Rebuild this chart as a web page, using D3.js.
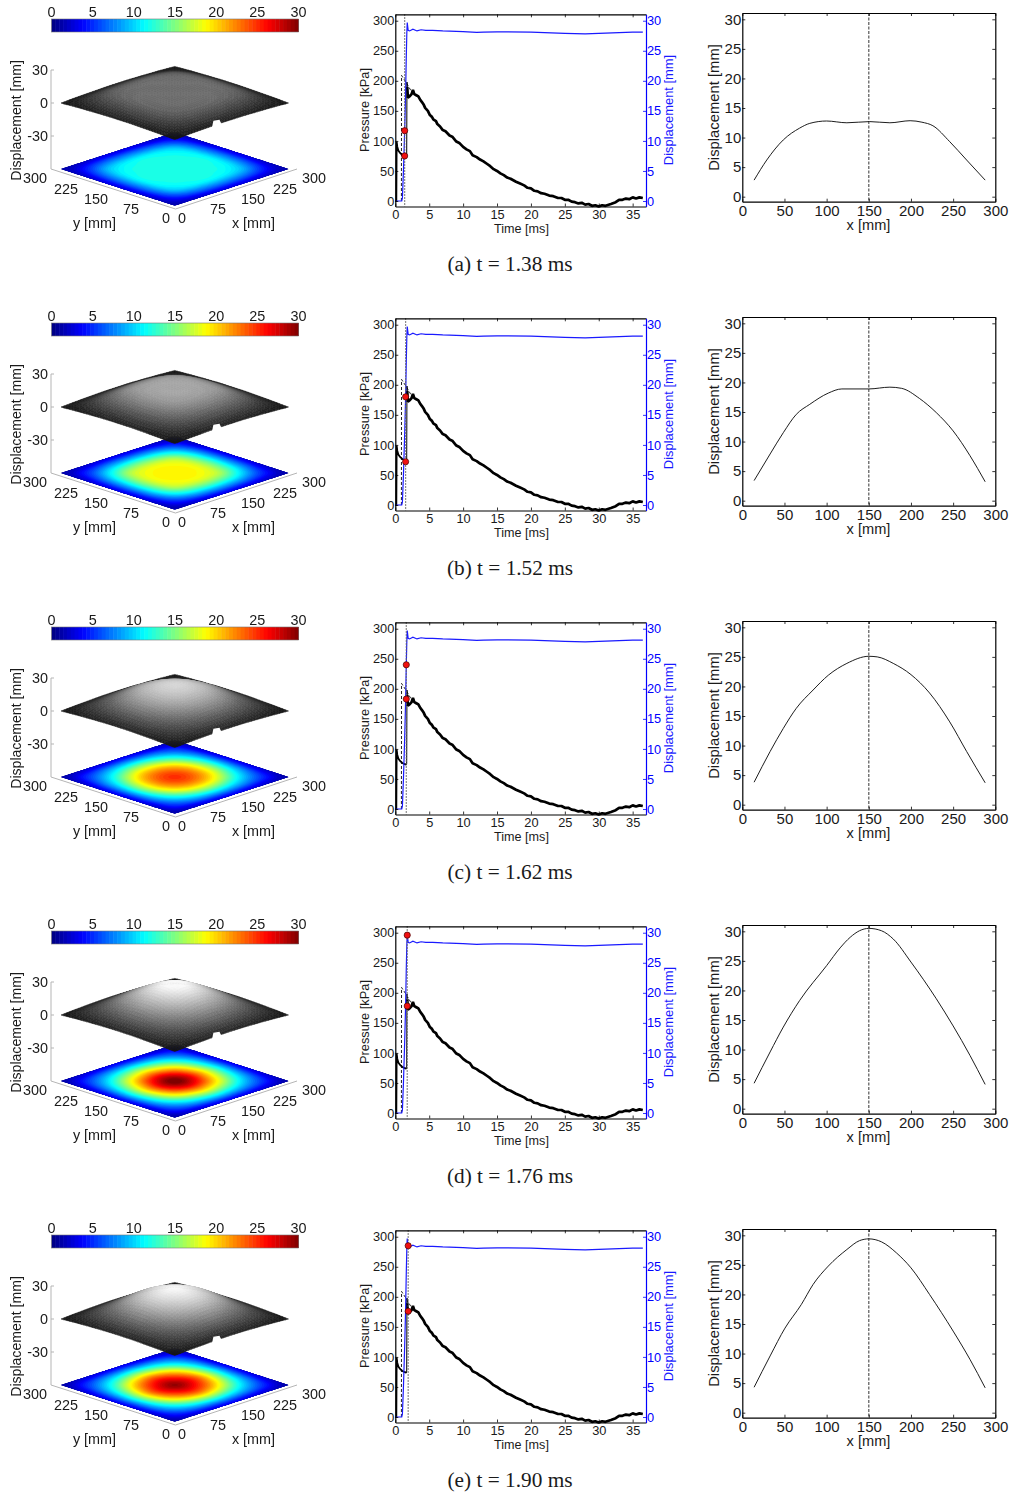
<!DOCTYPE html>
<html>
<head>
<meta charset="utf-8">
<title>Displacement fields and pressure histories</title>
<script src="https://cdn.jsdelivr.net/npm/d3@7"></script>
<style>
  html, body { margin: 0; background: #fff; }
  text { font-family: "Liberation Sans", Arial, sans-serif; fill: #1a1a1a; }
  .caption { font-family: "Liberation Serif", "Times New Roman", serif; font-size: 21.3px; }
</style>
</head>
<body>
<svg id="chart"></svg>
<script>
  var LETTERS = ["a", "b", "c", "d", "e"];
  var TIMES = [1.38, 1.52, 1.62, 1.76, 1.90];

  // red dots on the middle plots
  var DOT_DISP = [11.7, 18.0, 24.0, 29.6, 28.5];
  var DOT_PRESS = [75, 72, 183, 178, 176];

  // middle plot, the same record in every row
  var PRESS_T = [0, 0.15, 0.2, 0.3, 0.45, 0.7, 1.0, 1.3, 1.55, 1.68,
    1.72, 1.76, 1.85, 2.1, 2.4, 2.6, 2.8, 3.1, 3.4, 3.7, 3.9, 4.2, 4.4, 4.8, 5.1, 5.4, 5.6, 6.0, 6.2, 6.6, 7, 7.4, 8, 8.4, 9, 9.5, 10, 10.5, 11, 11.4, 12, 12.5, 13, 13.5, 14, 14.5, 15, 15.5, 16, 16.5, 17, 17.8, 18.4, 19, 19.5, 20, 20.5, 21, 21.5, 22, 22.7, 23.3, 24, 24.5, 25, 25.5, 26, 26.5, 27, 27.5, 28, 28.5, 29, 29.5, 30, 30.5, 31, 31.8, 32.5, 33, 33.5, 34, 34.5, 35, 35.5, 36, 36.5];
  var PRESS_KPA = [0, 0, 99, 90, 84, 80, 77, 75, 74, 75,
    198, 190, 172, 174, 178, 185, 178, 176, 174, 168, 165, 160, 155, 150, 143, 140, 136, 133, 128, 124, 118, 116, 109, 107, 99, 96, 90, 86, 83, 76, 73, 69, 66, 62, 58, 53, 50, 46, 43, 39, 37, 32, 29, 26, 22, 21, 17, 16, 13, 12, 9, 8, 5, 5, 2, 2, -1, -2, -4, -3, -6, -5, -8, -7, -9, -7, -8, -5, -2, 2, 2, 4, 3, 6, 4, 6, 5];
  var JUMP_INDEX = 9;
  var DASH_T = [0.9, 0.92, 1.67, 2.6];
  var DASH_KPA = [0, 209, 196, 178];
  var DISP_T = [0, 0.95, 1.05, 1.2, 1.38, 1.52, 1.62, 1.7, 1.76, 1.85, 1.9, 2.1, 2.6, 3.2, 3.8, 4.5, 5.5, 7, 10, 12, 13, 15, 20, 25, 28, 31, 35, 36.5];
  var DISP_MM = [0, 0, 0.5, 5, 11.7, 17.9, 24, 28, 29.7, 28.8, 28.4, 28.3, 28.6, 28.3, 28.5, 28.4, 28.4, 28.3, 28.2, 28.05, 28.1, 28.15, 28.1, 27.9, 27.8, 27.95, 28.1, 28.1];

  // right plot, centre line profile per row
  var PROFILE_X = [
    [14, 29, 48.6, 68, 80, 100, 124, 151, 175, 199, 213, 226, 246, 266, 288],
    [14, 33, 48.6, 64, 80, 102, 118, 150, 175, 189, 210, 230, 250, 270, 288],
    [14, 33, 48.6, 64, 84, 102, 124, 150, 160, 179, 200, 222, 246, 266, 288],
    [14, 33, 48.6, 68, 100, 116, 128, 139, 150, 165, 179, 200, 230, 250, 270, 288],
    [14, 33, 50.6, 70, 84, 102, 124, 139, 150, 165, 183, 200, 222, 250, 270, 288]
  ];
  var PROFILE_MM = [
    [2.8, 6.2, 9.6, 11.6, 12.4, 12.8, 12.5, 12.7, 12.5, 12.85, 12.6, 12, 9.3, 6.2, 2.8],
    [3.4, 7.9, 11.5, 14.6, 16.3, 18.2, 18.9, 18.9, 19.2, 19, 17.3, 14.9, 11.8, 7.6, 3.2],
    [3.8, 9, 12.9, 16.3, 19.4, 21.9, 23.9, 25.1, 25, 23.9, 22, 18.9, 14, 9, 3.7],
    [4.3, 9.6, 13.8, 18.3, 24.2, 27.2, 29, 30.1, 30.5, 30.1, 28.7, 24.8, 18.6, 14, 9, 4.1],
    [4.3, 9.6, 14.3, 18.3, 21.7, 24.8, 27.6, 29.1, 29.4, 28.9, 27, 24.5, 20, 13.8, 9, 4.2]
  ];

  // plate displacement [mm], one quadrant per row,
  // rows and columns are 0, 30, 60, 90, 120, 150 mm away from the plate centre
  var FIELD_A = [
    [12.0, 12.0, 12.1, 11.2, 7.4, 2.8],
    [12.0, 12.0, 11.9, 11.0, 7.2, 2.8],
    [12.1, 11.9, 11.6, 10.4, 6.8, 2.5],
    [11.2, 11.0, 10.4, 9.0, 5.8, 2.2],
    [7.4, 7.2, 6.8, 5.8, 4.0, 1.8],
    [2.8, 2.8, 2.5, 2.2, 1.8, 1.2]
  ];
  var FIELD_B = [
    [18.9, 19.0, 17.8, 14.0, 8.2, 3.0],
    [19.0, 18.7, 17.5, 13.6, 8.0, 3.0],
    [17.8, 17.5, 16.2, 12.4, 7.4, 2.7],
    [14.0, 13.6, 12.4, 9.8, 6.0, 2.3],
    [8.2, 8.0, 7.4, 6.0, 4.2, 1.8],
    [3.0, 3.0, 2.7, 2.3, 1.8, 1.2]
  ];
  var FIELD_C = [
    [25.0, 23.7, 20.4, 15.4, 9.0, 3.2],
    [23.7, 22.6, 19.6, 14.6, 8.6, 3.1],
    [20.4, 19.6, 16.8, 12.4, 7.7, 2.8],
    [15.4, 14.6, 12.4, 9.6, 6.2, 2.4],
    [9.0, 8.6, 7.7, 6.2, 4.4, 1.9],
    [3.2, 3.1, 2.8, 2.4, 1.9, 1.3]
  ];
  var FIELD_D = [
    [30.5, 27.9, 22.5, 16.2, 9.4, 3.3],
    [27.9, 25.8, 21.0, 15.2, 8.9, 3.2],
    [22.5, 21.0, 17.8, 13.0, 7.9, 2.9],
    [16.2, 15.2, 13.0, 9.9, 6.4, 2.5],
    [9.4, 8.9, 7.9, 6.4, 4.5, 2.0],
    [3.3, 3.2, 2.9, 2.5, 2.0, 1.3]
  ];
  var FIELD_E = [
    [29.4, 27.2, 23.0, 16.6, 9.4, 3.3],
    [27.2, 25.4, 21.5, 15.6, 8.9, 3.2],
    [23.0, 21.5, 18.2, 13.2, 8.0, 2.9],
    [16.6, 15.6, 13.2, 10.1, 6.5, 2.5],
    [9.4, 8.9, 8.0, 6.5, 4.5, 2.0],
    [3.3, 3.2, 2.9, 2.5, 2.0, 1.3]
  ];
  var FIELDS = [FIELD_A, FIELD_B, FIELD_C, FIELD_D, FIELD_E];

  // hole in the near edge of the grey surface, plate coordinates [mm]
  var NOTCH_X = [98, 128, 140, 124];
  var NOTCH_Y = [0, 26, 22, 0];

  var BAR_TICKS = [0, 5, 10, 15, 20, 25, 30];
  var PLATE_TICKS = [0, 75, 150, 225, 300];
  var Z_TICKS = [-30, 0, 30];
  var TIME_TICKS = [0, 5, 10, 15, 20, 25, 30, 35];
  var PRESS_TICKS = [0, 50, 100, 150, 200, 250, 300];
  var DISP_TICKS = [0, 5, 10, 15, 20, 25, 30];
  var PROFILE_X_TICKS = [0, 50, 100, 150, 200, 250, 300];

  var JET_STOPS = [0, 3.75, 11.25, 18.75, 26.25, 30];
  var JET_COLORS = ["#00007f", "#0000ff", "#00ffff", "#ffff00", "#ff0000", "#7f0000"];

  var ROW_STEP = 304;

  var jet = d3.scaleLinear().domain(JET_STOPS).range(JET_COLORS).clamp(true);
  var grey = d3.scaleLinear().domain([0, 28]).range(["#141414", "#f8f8f8"]).clamp(true);

  var svg = d3.select("#chart").attr("width", 1012).attr("height", 1495);

  var blur = svg.append("defs").append("filter")
      .attr("id", "soft")
      .attr("x", "-5%").attr("y", "-5%").attr("width", "110%").attr("height", "110%")
      .attr("color-interpolation-filters", "sRGB");
  blur.append("feGaussianBlur").attr("stdDeviation", 0.55);

  LETTERS.forEach(function (letter, i) {
    var row = svg.append("g").attr("transform", "translate(0," + (i * ROW_STEP) + ")");
    drawPlate(row.append("g").attr("filter", "url(#soft)"), FIELDS[i]);
    drawHistory(row.append("g"), i);
    drawProfile(row.append("g"), i);
    row.append("text")
      .attr("class", "caption")
      .attr("x", 510).attr("y", 271)
      .attr("text-anchor", "middle")
      .text("(" + letter + ") t = " + TIMES[i].toFixed(2) + " ms");
  });

  /* Left column: colour bar, grey surface, flat colour map */
  function drawPlate(g, quadrant) {
    var value = fieldSampler(quadrant);

    var sx = d3.scaleLinear().domain([-300, 300]).range([61, 288.5]);
    var sy = d3.scaleLinear().domain([0, 600]).range([36.6, -36.6]);
    var sz = d3.scaleLinear().domain([-30, 30]).range([136, 70]);

    function project(x, y, z) {
      return [sx(x - y), sy(x + y) + sz(z)];
    }
    // the map keeps a blue rim, the surface itself goes down to zero there
    function height(x, y) {
      return Math.max(0, value(x, y) - 1.3);
    }

    // colour bar
    var bar = d3.scaleLinear().domain([0, 30]).range([51.5, 298.5]);
    g.append("g").selectAll("rect")
      .data(d3.range(64))
      .enter().append("rect")
        .attr("x", function(d) { return bar(d * 30 / 64); })
        .attr("y", 19)
        .attr("width", bar(30 / 64) - bar(0) + 0.5)
        .attr("height", 13)
        .attr("fill", function(d) { return jet((d + 0.5) * 30 / 64); });
    g.append("rect")
      .attr("x", 51.5).attr("y", 19).attr("width", 247).attr("height", 13)
      .attr("fill", "none").attr("stroke", "#777").attr("stroke-width", 0.6);
    g.append("g").selectAll("text")
      .data(BAR_TICKS)
      .enter().append("text")
        .attr("x", function(d) { return bar(d); })
        .attr("y", 17)
        .attr("text-anchor", "middle")
        .attr("font-size", 14.4)
        .text(function(d) { return d; });

    // axes of the 3D box
    var axisColor = "#b5b5b5";
    g.append("path")
      .attr("d", "M51,70V169L175.5,209L297,169")
      .attr("fill", "none").attr("stroke", axisColor).attr("stroke-width", 1);
    g.append("g").selectAll("line")
      .data(Z_TICKS)
      .enter().append("line")
        .attr("x1", 51).attr("x2", 54)
        .attr("y1", function(d) { return sz(d); })
        .attr("y2", function(d) { return sz(d); })
        .attr("stroke", axisColor);
    g.append("g").selectAll("text")
      .data(Z_TICKS)
      .enter().append("text")
        .attr("x", 48)
        .attr("y", function(d) { return sz(d) + 5; })
        .attr("text-anchor", "end")
        .attr("font-size", 14.4)
        .text(function(d) { return d; });
    g.append("text")
      .attr("transform", "translate(21,120.5) rotate(-90)")
      .attr("text-anchor", "middle")
      .attr("font-size", 14.1)
      .text("Displacement [mm]");

    var yLabelX = d3.scaleLinear().domain(PLATE_TICKS).range([166, 131, 96, 66, 35]);
    var xLabelX = d3.scaleLinear().domain(PLATE_TICKS).range([182, 218, 253, 285, 314]);
    var labelY = d3.scaleLinear().domain(PLATE_TICKS).range([223, 214, 204, 194, 183]);
    var plateTicks = g.append("g");
    plateTicks.selectAll(".yt")
      .data(PLATE_TICKS)
      .enter().append("text")
        .attr("class", "yt")
        .attr("x", function(d) { return yLabelX(d); })
        .attr("y", function(d) { return labelY(d); })
        .attr("text-anchor", "middle")
        .attr("font-size", 14.4)
        .text(function(d) { return d; });
    plateTicks.selectAll(".xt")
      .data(PLATE_TICKS)
      .enter().append("text")
        .attr("class", "xt")
        .attr("x", function(d) { return xLabelX(d); })
        .attr("y", function(d) { return labelY(d); })
        .attr("text-anchor", "middle")
        .attr("font-size", 14.4)
        .text(function(d) { return d; });
    g.append("text").attr("x", 94.5).attr("y", 228).attr("text-anchor", "middle")
      .attr("font-size", 14.4).text("y [mm]");
    g.append("text").attr("x", 253.5).attr("y", 228).attr("text-anchor", "middle")
      .attr("font-size", 14.4).text("x [mm]");

    // flat colour map, 60 mm below the zero plane
    var n = 61, mmPerCell = 5, values = [];
    d3.range(n).forEach(function (j) {
      d3.range(n).forEach(function (k) { values.push(value(k * mmPerCell, j * mmPerCell)); });
    });
    var planePath = d3.geoPath(d3.geoTransform({
      point: function (px, py) {
        var x = Math.max(0, Math.min(300, (px - 0.5) * mmPerCell));
        var y = Math.max(0, Math.min(300, (py - 0.5) * mmPerCell));
        var p = project(x, y, -60);
        this.stream.point(p[0], p[1]);
      }
    }));
    var thresholds = d3.range(0.25, 31, 0.5);
    var layers = d3.contours().size([n, n]).thresholds(thresholds)(values);
    var map = g.append("g");
    map.append("path")
      .attr("d", d3.line()([[0, 0], [300, 0], [300, 300], [0, 300]].map(function (c) {
        return project(c[0], c[1], -60);
      })) + "Z")
      .attr("fill", jet(0));
    map.selectAll(".layer")
      .data(layers)
      .enter().append("path")
        .attr("class", "layer")
        .attr("d", planePath)
        .attr("fill", function(d) { return jet(d.value + 0.25); });

    // grey surface, far cells first
    var step = 7.5, cells = [];
    d3.range(300 - step, -1, -step).forEach(function (y) {
      d3.range(300 - step, -1, -step).forEach(function (x) {
        cells.push({ x: x, y: y });
      });
    });
    g.append("g").selectAll("path")
      .data(cells)
      .enter().append("path")
        .attr("d", function(c) {
          return d3.line()([
            project(c.x, c.y, height(c.x, c.y)),
            project(c.x + step, c.y, height(c.x + step, c.y)),
            project(c.x + step, c.y + step, height(c.x + step, c.y + step)),
            project(c.x, c.y + step, height(c.x, c.y + step))
          ]) + "Z";
        })
        .attr("fill", function(c) { return grey(height(c.x + step / 2, c.y + step / 2)); })
        .attr("stroke", function(c) { return grey(height(c.x + step / 2, c.y + step / 2)); })
        .attr("stroke-width", 0.5);

    g.append("path")
      .attr("d", d3.line()(NOTCH_X.map(function (x, k) { return project(x, NOTCH_Y[k], 0); })) + "Z")
      .attr("fill", "#fff");
  }

  // Smooth lookup in a quadrant table, mirrored about the plate centre
  function fieldSampler(quadrant) {
    function at(r, c) {
      var rr = Math.abs(Math.max(0, Math.min(10, r)) - 5);
      var cc = Math.abs(Math.max(0, Math.min(10, c)) - 5);
      return quadrant[rr][cc];
    }
    function spline(a, b, c, d, t) {
      return b + 0.5 * t * (c - a + t * (2 * a - 5 * b + 4 * c - d + t * (3 * (b - c) + d - a)));
    }
    return function (x, y) {
      var fx = Math.min(x / 30, 9.9999), fy = Math.min(y / 30, 9.9999);
      var c0 = Math.floor(fx), r0 = Math.floor(fy);
      var rows = [-1, 0, 1, 2].map(function (dr) {
        return spline(at(r0 + dr, c0 - 1), at(r0 + dr, c0), at(r0 + dr, c0 + 1), at(r0 + dr, c0 + 2), fx - c0);
      });
      return Math.max(0, spline(rows[0], rows[1], rows[2], rows[3], fy - r0));
    };
  }

  /* Middle column: pressure (black) and displacement (blue) against time */
  function drawHistory(g, i) {
    var left = 395.3, right = 646, top = 14.3, bottom = 206.5;

    var x = d3.scaleLinear().domain([0, 36.97]).range([left, right]);
    var yP = d3.scaleLinear().domain([-9.15, 310.7]).range([bottom, top]);
    var yD = d3.scaleLinear().domain([-0.915, 31.07]).range([bottom, top]);

    var pressureLine = d3.line()
      .x(function(k) { return x(PRESS_T[k]); })
      .y(function(k) { return yP(PRESS_KPA[k]); });

    g.append("path")
      .datum(DASH_T)
      .attr("fill", "none").attr("stroke", "#222").attr("stroke-width", 1)
      .attr("stroke-dasharray", "3,2")
      .attr("d", d3.line()
        .x(function(d) { return x(d); })
        .y(function(d, k) { return yP(DASH_KPA[k]); }));

    // the shock front is one thin stroke, the record around it is noisy and reads thick
    g.append("path")
      .attr("fill", "none").attr("stroke", "#000").attr("stroke-width", 1.8)
      .attr("d", pressureLine(d3.range(0, JUMP_INDEX + 1)));
    g.append("path")
      .attr("fill", "none").attr("stroke", "#000").attr("stroke-width", 1)
      .attr("d", pressureLine([JUMP_INDEX, JUMP_INDEX + 1, JUMP_INDEX + 2]));
    g.append("path")
      .attr("fill", "none").attr("stroke", "#000").attr("stroke-width", 2.7)
      .attr("stroke-linejoin", "bevel")
      .attr("d", pressureLine(d3.range(JUMP_INDEX + 2, PRESS_T.length)));

    g.append("path")
      .datum(DISP_T)
      .attr("fill", "none").attr("stroke", "#1a1aff").attr("stroke-width", 1.2)
      .attr("d", d3.line()
        .x(function(d) { return x(d); })
        .y(function(d, k) { return yD(DISP_MM[k]); }));

    g.append("line")
      .attr("x1", x(TIMES[i])).attr("x2", x(TIMES[i]))
      .attr("y1", top).attr("y2", bottom)
      .attr("stroke", "#666").attr("stroke-width", 1.2)
      .attr("stroke-dasharray", "1.5,1.5");

    g.append("circle")
      .attr("cx", x(TIMES[i])).attr("cy", yD(DOT_DISP[i])).attr("r", 3.1)
      .attr("fill", "#f01010").attr("stroke", "#400").attr("stroke-width", 0.7);
    g.append("circle")
      .attr("cx", x(TIMES[i])).attr("cy", yP(DOT_PRESS[i])).attr("r", 3.1)
      .attr("fill", "#f01010").attr("stroke", "#400").attr("stroke-width", 0.7);

    styleAxis(g.append("g").attr("transform", "translate(0," + bottom + ")")
      .call(d3.axisBottom(x).tickValues(TIME_TICKS).tickFormat(d3.format("d")).tickSize(-3).tickSizeOuter(0).tickPadding(3.3)), 12.8, "#000");
    styleAxis(g.append("g").attr("transform", "translate(0," + top + ")")
      .call(d3.axisTop(x).tickValues(TIME_TICKS).tickFormat("").tickSize(-3).tickSizeOuter(0)), 12.8, "#000");
    styleAxis(g.append("g").attr("transform", "translate(" + left + ",0)")
      .call(d3.axisLeft(yP).tickValues(PRESS_TICKS).tickSize(-3).tickSizeOuter(0).tickPadding(1)), 12.8, "#000");
    styleAxis(g.append("g").attr("transform", "translate(" + right + ",0)")
      .call(d3.axisRight(yD).tickValues(DISP_TICKS).tickSize(-3).tickSizeOuter(0).tickPadding(1)), 12.8, "#0000ff");

    g.append("text").attr("x", 521.5).attr("y", 233.2).attr("text-anchor", "middle")
      .attr("font-size", 12.6).text("Time [ms]");
    g.append("text").attr("transform", "translate(369,110) rotate(-90)").attr("text-anchor", "middle")
      .attr("font-size", 12.8).text("Pressure [kPa]");
    g.append("text").attr("transform", "translate(673,110) rotate(-90)").attr("text-anchor", "middle")
      .attr("font-size", 12.9).style("fill", "#1a1aff").text("Displacement [mm]");
  }

  /* Right column: displacement along the centre line */
  function drawProfile(g, i) {
    var left = 742.3, right = 995.3, top = 13, bottom = 201.7;

    var x = d3.scaleLinear().domain([0, 300]).range([left, right]);
    var y = d3.scaleLinear().domain([-0.85, 31.07]).range([bottom, top]);

    g.append("line")
      .attr("x1", x(150)).attr("x2", x(150))
      .attr("y1", top).attr("y2", bottom)
      .attr("stroke", "#555").attr("stroke-width", 1.2)
      .attr("stroke-dasharray", "3,1.5");

    g.append("path")
      .datum(PROFILE_X[i])
      .attr("fill", "none").attr("stroke", "#111").attr("stroke-width", 0.95)
      .attr("d", d3.line()
        .curve(d3.curveMonotoneX)
        .x(function(d) { return x(d); })
        .y(function(d, k) { return y(PROFILE_MM[i][k]); }));

    styleAxis(g.append("g").attr("transform", "translate(0," + bottom + ")")
      .call(d3.axisBottom(x).tickValues(PROFILE_X_TICKS).tickSize(-3).tickSizeOuter(0).tickPadding(4)), 15, "#000");
    styleAxis(g.append("g").attr("transform", "translate(0," + top + ")")
      .call(d3.axisTop(x).tickValues(PROFILE_X_TICKS).tickFormat("").tickSize(-3).tickSizeOuter(0)), 15, "#000");
    styleAxis(g.append("g").attr("transform", "translate(" + left + ",0)")
      .call(d3.axisLeft(y).tickValues(DISP_TICKS).tickSize(-3).tickSizeOuter(0).tickPadding(1)), 15, "#000");
    styleAxis(g.append("g").attr("transform", "translate(" + right + ",0)")
      .call(d3.axisRight(y).tickValues(DISP_TICKS).tickFormat("").tickSize(-3).tickSizeOuter(0)), 15, "#000");

    g.append("text").attr("x", 868.5).attr("y", 229.5).attr("text-anchor", "middle")
      .attr("font-size", 14.6).text("x [mm]");
    g.append("text").attr("transform", "translate(719,107.5) rotate(-90)").attr("text-anchor", "middle")
      .attr("font-size", 14.8).text("Displacement [mm]");
  }

  function styleAxis(axis, fontSize, color) {
    axis.attr("font-family", null).attr("font-size", null);
    axis.select(".domain").attr("stroke", color).attr("stroke-width", 1.2);
    axis.selectAll(".tick line").attr("stroke", color).attr("stroke-width", 0.8);
    axis.selectAll(".tick text").attr("font-size", fontSize).style("fill", color === "#000" ? "#1a1a1a" : color);
  }
</script>
</body>
</html>
